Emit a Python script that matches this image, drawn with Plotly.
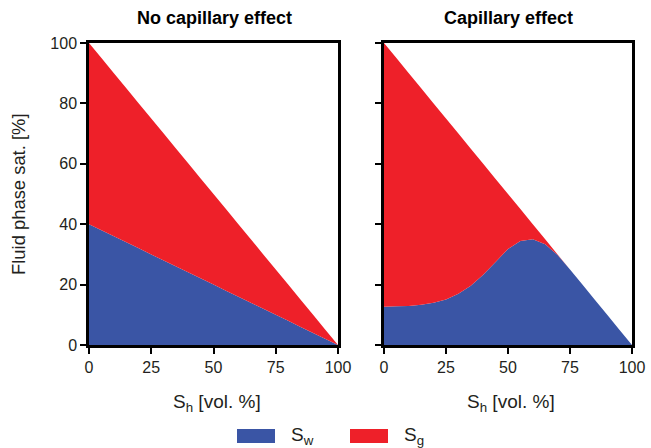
import plotly.graph_objects as go

sh = [0, 5, 10, 15, 20, 25, 30, 35, 40, 45, 50, 55, 60, 65, 70, 75, 80, 85, 90, 95, 100]
sw_nocap = [40, 38, 36, 34, 32, 30, 28, 26, 24, 22, 20, 18, 16, 14, 12, 10, 8, 6, 4, 2, 0]
sw_cap = [12.7, 12.8, 12.9, 13.3, 14.0, 15.1, 17.0, 19.6, 23.3, 27.5, 31.8, 34.4, 35.0, 33.4, 29.8, 25, 20, 15, 10, 5, 0]
total = [100, 95, 90, 85, 80, 75, 70, 65, 60, 55, 50, 45, 40, 35, 30, 25, 20, 15, 10, 5, 0]
x_ticks = [0, 25, 50, 75, 100]
y_ticks = [0, 20, 40, 60, 80, 100]
titles = ["No capillary effect", "Capillary effect"]
legend_names = ["S<sub>w</sub>", "S<sub>g</sub>"]

BLUE = "#3A55A5"
RED = "#EE2029"
TXT = "#231F20"
FONT = "Liberation Sans, Arial, sans-serif"

fig = go.Figure()
for i, sw in enumerate([sw_nocap, sw_cap]):
    xa = "x" if i == 0 else "x2"
    ya = "y" if i == 0 else "y2"
    fig.add_trace(go.Scatter(x=sh, y=sw, mode="none", fill="tozeroy", fillcolor=BLUE,
                             name=legend_names[0], showlegend=False, xaxis=xa, yaxis=ya))
    fig.add_trace(go.Scatter(x=sh, y=total, mode="none", fill="tonexty", fillcolor=RED,
                             name=legend_names[1], showlegend=False, xaxis=xa, yaxis=ya))

axis_common = dict(range=[0, 100], showline=True, linecolor="black", linewidth=2.5, mirror=True,
                   ticks="outside", ticklen=6, tickwidth=2, tickcolor="black", showgrid=False,
                   zeroline=False, automargin=False, tickfont=dict(size=16, color=TXT))

def px2x(p):
    return (p - 89) / 543

def py2y(p):
    return (345 - p) / 302

annotations = []
for i, t in enumerate(titles):
    annotations.append(dict(text="<b>" + t + "</b>", x=[px2x(214), px2x(508)][i], y=py2y(18),
                            xref="paper", yref="paper", xanchor="center", yanchor="middle",
                            showarrow=False, font=dict(size=18, color="#000")))
    annotations.append(dict(text="S<sub>h</sub> [vol. %]", x=[px2x(217), px2x(511)][i], y=py2y(403),
                            xref="paper", yref="paper", xanchor="center", yanchor="middle",
                            showarrow=False, font=dict(size=19, color=TXT)))
annotations.append(dict(text="Fluid phase sat. [%]", x=px2x(18), y=py2y(194), textangle=-90,
                        xref="paper", yref="paper", xanchor="center", yanchor="middle",
                        showarrow=False, font=dict(size=18.4, color=TXT)))

# manual legend
shapes = []
for name, col, x0, tx in [(legend_names[0], BLUE, 237, 289), (legend_names[1], RED, 350, 402)]:
    shapes.append(dict(type="rect", xref="paper", yref="paper", x0=px2x(x0), x1=px2x(x0 + 38),
                       y0=py2y(443), y1=py2y(429), fillcolor=col, line=dict(width=0)))
    annotations.append(dict(text=name, x=px2x(tx), y=py2y(436), xref="paper", yref="paper",
                            xanchor="left", yanchor="middle", showarrow=False,
                            font=dict(size=19, color=TXT)))

fig.update_layout(
    width=651, height=448,
    margin=dict(l=89, r=19, t=43, b=103, autoexpand=False),
    paper_bgcolor="white", plot_bgcolor="white",
    font=dict(family=FONT, color=TXT),
    showlegend=False,
    xaxis=dict(domain=[0, px2x(338)], tickvals=x_ticks, **axis_common),
    xaxis2=dict(domain=[px2x(384), 1], tickvals=x_ticks, **axis_common),
    yaxis=dict(tickvals=y_ticks, **axis_common),
    yaxis2=dict(anchor="x2", tickvals=y_ticks, showticklabels=False, **axis_common),
    annotations=annotations,
    shapes=shapes,
)
fig.write_html("out.html", config={"displayModeBar": False},
               post_script="document.body.style.margin='0px';document.body.style.overflow='hidden';")
